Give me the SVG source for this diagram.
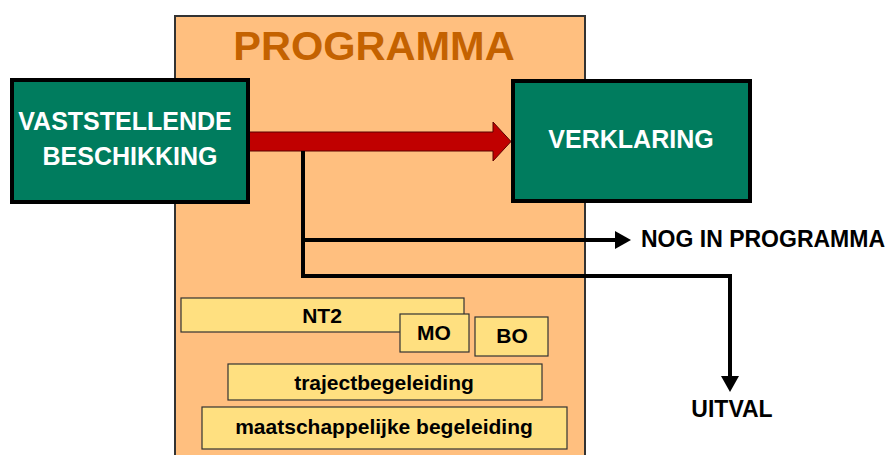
<svg xmlns="http://www.w3.org/2000/svg" width="887" height="455" viewBox="0 0 887 455">
  <style>
    .prog { fill: #FFBF7F; stroke: #333333; stroke-width: 2; }
    .green { fill: #007C5E; stroke: #000000; stroke-width: 4; }
    .gtext { font-family: "Liberation Sans", Arial, sans-serif; font-weight: bold; font-size: 25px; fill: #FFFFFF; text-anchor: middle; }
    .title { font-family: "Liberation Sans", Arial, sans-serif; font-weight: bold; font-size: 41.5px; fill: #C46200; text-anchor: middle; }
    .ybox { fill: #FFE080; stroke: #333333; stroke-width: 1.2; }
    .ytext { font-family: "Liberation Sans", Arial, sans-serif; font-weight: bold; font-size: 21px; fill: #000000; text-anchor: middle; }
    .otext { font-family: "Liberation Sans", Arial, sans-serif; font-weight: bold; font-size: 23px; fill: #000000; }
    .conn { fill: none; stroke: #000000; stroke-width: 4; }
  </style>
  <defs>
    <marker id="head" markerUnits="userSpaceOnUse" viewBox="0 0 16 18" refX="0" refY="9" markerWidth="16" markerHeight="18" orient="auto">
      <path d="M0,0 L16,9 L0,18 Z" fill="#000000"/>
    </marker>
  </defs>
  <rect width="887" height="455" fill="#FFFFFF"/>

  <g id="programma">
    <rect class="prog" x="175" y="16" width="410" height="450"/>
    <text class="title" x="374" y="60">PROGRAMMA</text>
  </g>

  <g id="connectors">
    <path d="M248,132 L493,132 L493,122 L511,141.5 L493,161 L493,151 L248,151 Z" fill="#C00000" stroke="#5A0000" stroke-width="1"/>
    <path class="conn" d="M303,151 L303,276 L730,276 L730,376" marker-end="url(#head)"/>
    <path class="conn" d="M303,240 L615,240" marker-end="url(#head)"/>
  </g>

  <g id="vaststellende">
    <rect class="green" x="12" y="80" width="236" height="122"/>
    <text class="gtext" x="125" y="130">VASTSTELLENDE</text>
    <text class="gtext" x="130" y="165">BESCHIKKING</text>
  </g>

  <g id="verklaring">
    <rect class="green" x="513" y="81" width="237" height="120"/>
    <text class="gtext" x="631" y="148">VERKLARING</text>
  </g>

  <g id="nog">
    <text class="otext" x="641" y="247">NOG IN PROGRAMMA</text>
  </g>

  <g id="uitval">
    <text class="otext" x="732" y="417" text-anchor="middle">UITVAL</text>
  </g>

  <g id="nt2">
    <rect class="ybox" x="181" y="298" width="283" height="34"/>
    <text class="ytext" x="322" y="323">NT2</text>
  </g>

  <g id="mo">
    <rect class="ybox" x="400" y="314" width="69" height="38"/>
    <text class="ytext" x="434" y="340">MO</text>
  </g>

  <g id="bo">
    <rect class="ybox" x="475" y="317" width="73" height="39"/>
    <text class="ytext" x="512" y="343">BO</text>
  </g>

  <g id="trajectbegeleiding">
    <rect class="ybox" x="228" y="364" width="314" height="36"/>
    <text class="ytext" x="384" y="390">trajectbegeleiding</text>
  </g>

  <g id="maatschappelijke">
    <rect class="ybox" x="202" y="407" width="365" height="42"/>
    <text class="ytext" x="384" y="434">maatschappelijke begeleiding</text>
  </g>
</svg>
